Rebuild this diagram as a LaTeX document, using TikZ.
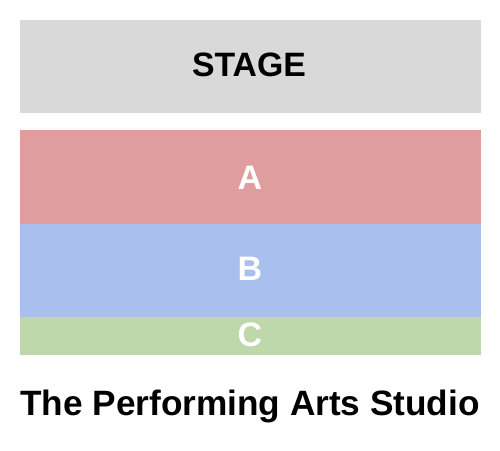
\documentclass[tikz,border=0pt]{standalone}
\usepackage{fontspec}
\setmainfont{Liberation Sans}
\definecolor{stagegray}{RGB}{217,217,217}
\definecolor{secA}{RGB}{224,157,157}
\definecolor{secB}{RGB}{169,191,237}
\definecolor{secC}{RGB}{190,215,171}
\begin{document}
\begin{tikzpicture}[x=1pt,y=-1pt,
  seclabel/.style={anchor=base,inner sep=0pt,text=white,font=\fontsize{34}{40}\selectfont\bfseries},
]
\useasboundingbox (0,0) rectangle (500,450);
\fill[white] (0,0) rectangle (500,450);
\fill[stagegray] (19.5,19.5) rectangle (481,113);
\fill[secA] (19.5,130) rectangle (481,224);
\fill[secB] (19.5,224) rectangle (481,317);
\fill[secC] (19.5,317) rectangle (481,355);
\node[anchor=base,inner sep=0pt,font=\fontsize{33.8}{38}\selectfont\bfseries] (stage) at (249,76.5) {STAGE};
\node[seclabel] (a) at (250,189.3) {A};
\node[seclabel] (b) at (250,280.7) {B};
\node[seclabel] (c) at (250,346.5) {C};
\node[anchor=base,inner sep=0pt,font=\fontsize{35.2}{40}\selectfont\bfseries] (title) at (250,415) {The Performing Arts Studio};
\end{tikzpicture}
\end{document}
